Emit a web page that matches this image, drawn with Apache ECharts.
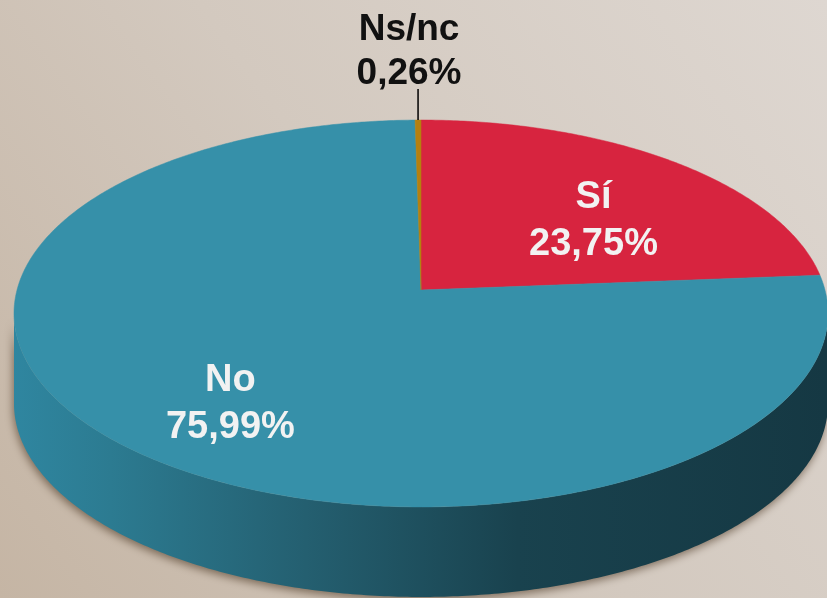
<!DOCTYPE html>
<html>
<head>
<meta charset="utf-8">
<script src="https://cdn.jsdelivr.net/npm/echarts@6/dist/echarts.min.js"></script>
<style>
html,body{margin:0;padding:0;}
#chart{width:827px;height:598px;}
</style>
</head>
<body>
<div id="chart"></div>
<script>
// ---- data ----
const categories = ['Sí', 'No', 'Ns/nc'];
const values = [23.75, 75.99, 0.26];
const topColors = ['#D7243F', '#3690A9', '#B5800F'];

// ---- layout / style ----
const CX = 421, CY = 290;      // projected pie centre
const A = 404, B = 190.6;      // projection radii
const P = 0.1214;              // perspective factor
const DEPTH = 90;              // side thickness

function proj(theta, f, dy) {
  const u = f * Math.sin(theta), v = f * Math.cos(theta);
  const k = 1 / (1 + P * v);
  return [CX + A * u * k, CY - B * v * k + (dy || 0)];
}
function arcPts(s, e, f, dy) {
  const pts = [];
  const n = Math.max(2, Math.ceil((e - s) / 0.01));
  for (let i = 0; i <= n; i++) pts.push(proj(s + (e - s) * i / n, f, dy));
  return pts;
}
const total = values.reduce((a, b) => a + b, 0);
const starts = [];
values.reduce((acc, v, i) => { starts[i] = acc; return acc + v; }, 0);
function angles(i, val) {
  const s = starts[i] / total * Math.PI * 2;
  const e = (starts[i] + val) / total * Math.PI * 2;
  return [s, e];
}
const fmt = v => v.toFixed(2).replace('.', ',') + '%';
const seriesData = values.map((v, i) => ({ name: categories[i], value: v }));

const sideGrad = {
  type: 'linear', x: 13, y: 0, x2: 827, y2: 0, global: true,
  colorStops: [
    { offset: 0, color: '#2F86A0' },
    { offset: 0.12, color: '#2C7B91' },
    { offset: 0.36, color: '#245F70' },
    { offset: 0.62, color: '#19424E' },
    { offset: 1, color: '#153843' }
  ]
};

const chart = echarts.init(document.getElementById('chart'));
chart.setOption({
  animation: false,
  backgroundColor: {
    type: 'linear', x: 0, y: 1, x2: 1, y2: 0,
    colorStops: [
      { offset: 0, color: '#C5B5A4' },
      { offset: 0.5, color: '#D3C9BF' },
      { offset: 1, color: '#DED7D1' }
    ]
  },
  series: [
    {
      type: 'custom',
      coordinateSystem: 'none',
      silent: true,
      z: 1,
      data: seriesData,
      renderItem: function (params, api) {
        const i = params.dataIndex;
        const [s, e] = angles(i, api.value(0));
        const tR = Math.PI / 2 + Math.asin(P), tL = 1.5 * Math.PI - Math.asin(P);
        const a = Math.max(s, tR), b = Math.min(e, tL);
        if (b <= a) return { type: 'group', children: [] };
        const top = arcPts(a, b, 1, 0);
        const bot = arcPts(a, b, 1, DEPTH).reverse();
        return {
          type: 'polygon',
          shape: { points: top.concat(bot) },
          style: {
            fill: i === 1 ? sideGrad : '#7a1020',
            shadowBlur: 9, shadowColor: 'rgba(70,50,30,0.6)', shadowOffsetY: 3, shadowOffsetX: -1
          }
        };
      }
    },
    {
      type: 'custom',
      coordinateSystem: 'none',
      silent: true,
      z: 2,
      data: seriesData,
      renderItem: function (params, api) {
        const i = params.dataIndex;
        const val = api.value(0);
        const [s, e] = angles(i, val);
        const pts = [[CX, CY]].concat(arcPts(s, e, 1, 0));
        const children = [{
          type: 'polygon',
          shape: { points: pts },
          style: { fill: topColors[i], stroke: topColors[i], lineWidth: 0.5 }
        }];
        const mid = (s + e) / 2;
        const txt = categories[i] + '\n' + fmt(val);
        if (val / total < 0.02) {
          const edge = proj(mid, 1, 0);
          children.push({
            type: 'line',
            shape: { x1: edge[0], y1: edge[1], x2: edge[0], y2: edge[1] - 31 },
            style: { stroke: '#000', lineWidth: 1.5 }
          });
          children.push({
            type: 'text',
            x: edge[0] - 9, y: edge[1] - 68,
            style: {
              text: txt, fill: '#111', align: 'center', verticalAlign: 'middle',
              fontSize: 37, fontWeight: 'bold', fontFamily: '"Liberation Sans", Arial, sans-serif',
              lineHeight: 44
            }
          });
        } else {
          const c = proj(mid, 0.65, 17);
          children.push({
            type: 'text',
            x: c[0] + (i === 0 ? 4 : -3), y: c[1],
            style: {
              text: txt, fill: '#F2F2F2', align: 'center', verticalAlign: 'middle',
              fontSize: 38, fontWeight: 'bold', fontFamily: '"Liberation Sans", Arial, sans-serif',
              lineHeight: 47
            }
          });
        }
        return { type: 'group', children: children };
      }
    }
  ]
});
</script>
</body>
</html>
